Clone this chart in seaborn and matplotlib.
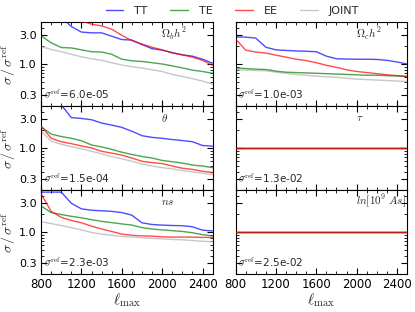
import numpy as np
import pandas as pd
import matplotlib
matplotlib.use("Agg")
import matplotlib.pyplot as plt
from matplotlib.ticker import FixedLocator, FixedFormatter, LogLocator, NullFormatter, MultipleLocator
import seaborn as sns

ell = [800, 900, 1000, 1100, 1200, 1300, 1400, 1500, 1600, 1700, 1800, 1900, 2000, 2100, 2200, 2300, 2400, 2500]

series_names = ["TT", "TE", "EE", "JOINT"]
series_colors = ["blue", "green", "red", "#b0b0b0"]

# Omega_b h^2
obh2_TT = [12, 9, 6, 4.2, 3.4, 3.3, 3.3, 2.9, 2.55, 2.5, 2.1, 1.8, 1.7, 1.55, 1.42, 1.35, 1.2, 1.03]
obh2_TE = [2.95, 2.25, 1.88, 1.85, 1.72, 1.6, 1.58, 1.45, 1.2, 1.13, 1.1, 1.05, 1.0, 0.93, 0.86, 0.79, 0.75, 0.70]
obh2_EE = [15, 11, 8, 6.3, 5.2, 4.6, 4.3, 3.8, 3.0, 2.45, 2.15, 1.9, 1.72, 1.52, 1.42, 1.3, 1.15, 0.95]
obh2_JOINT = [1.95, 1.75, 1.6, 1.45, 1.32, 1.22, 1.15, 1.05, 0.96, 0.9, 0.86, 0.8, 0.75, 0.67, 0.62, 0.57, 0.52, 0.46]

# Omega_c h^2
och2_TT = [2.82, 2.8, 2.7, 1.9, 1.72, 1.68, 1.65, 1.63, 1.6, 1.35, 1.22, 1.21, 1.2, 1.2, 1.19, 1.15, 1.08, 1.0]
och2_TE = [0.86, 0.84, 0.82, 0.81, 0.76, 0.73, 0.72, 0.71, 0.7, 0.69, 0.68, 0.67, 0.66, 0.65, 0.65, 0.64, 0.63, 0.62]
och2_EE = [2.6, 1.7, 1.58, 1.52, 1.4, 1.3, 1.2, 1.14, 1.05, 0.95, 0.88, 0.8, 0.75, 0.72, 0.69, 0.66, 0.64, 0.62]
och2_JOINT = [0.8, 0.79, 0.78, 0.77, 0.73, 0.7, 0.67, 0.65, 0.63, 0.61, 0.6, 0.58, 0.56, 0.55, 0.54, 0.53, 0.52, 0.51]

# theta
theta_TT = [12, 8.5, 5.2, 3.2, 3.1, 2.95, 2.6, 2.4, 2.2, 1.9, 1.6, 1.5, 1.45, 1.38, 1.33, 1.27, 1.1, 1.07]
theta_TE = [2.25, 1.7, 1.55, 1.45, 1.32, 1.12, 1.04, 0.95, 0.85, 0.78, 0.72, 0.68, 0.62, 0.59, 0.56, 0.52, 0.5, 0.47]
theta_EE = [2.3, 1.45, 1.27, 1.18, 1.08, 1.0, 0.88, 0.82, 0.76, 0.68, 0.6, 0.57, 0.55, 0.5, 0.46, 0.44, 0.41, 0.39]
theta_JOINT = [1.9, 1.3, 1.15, 1.05, 0.97, 0.88, 0.8, 0.72, 0.66, 0.6, 0.54, 0.5, 0.47, 0.45, 0.42, 0.4, 0.38, 0.36]

# tau
tau_TT = [1.0] * 18
tau_TE = [1.0] * 18
tau_EE = [1.0] * 18
tau_JOINT = [1.0] * 18

# ns
ns_TT = [4.6, 4.6, 4.6, 3.0, 2.42, 2.3, 2.25, 2.2, 2.1, 1.9, 1.42, 1.33, 1.3, 1.28, 1.27, 1.22, 1.07, 1.04]
ns_TE = [2.7, 2.1, 1.95, 1.82, 1.72, 1.6, 1.5, 1.43, 1.36, 1.3, 1.18, 1.12, 1.08, 1.05, 1.02, 0.97, 0.9, 0.86]
ns_EE = [4.3, 2.2, 1.75, 1.55, 1.42, 1.25, 1.12, 1.02, 0.92, 0.88, 0.86, 0.85, 0.83, 0.82, 0.82, 0.82, 0.81, 0.81]
ns_JOINT = [1.48, 1.38, 1.28, 1.18, 1.08, 0.98, 0.92, 0.88, 0.84, 0.82, 0.8, 0.78, 0.77, 0.75, 0.74, 0.72, 0.7, 0.69]

# ln(10^9 As)
lnas_TT = [1.0] * 18
lnas_TE = [1.01] * 18
lnas_EE = [1.0] * 18
lnas_JOINT = [1.0] * 18

panel_labels = [r"$\Omega_b h^2$", r"$\Omega_c h^2$", r"$\theta$", r"$\tau$", r"$ns$", r"$ln[10^9\ As]$"]
sigma_ref = ["6.0e-05", "1.0e-03", "1.5e-04", "1.3e-02", "2.3e-03", "2.5e-02"]
panel_data = [
    [obh2_TT, obh2_TE, obh2_EE, obh2_JOINT],
    [och2_TT, och2_TE, och2_EE, och2_JOINT],
    [theta_TT, theta_TE, theta_EE, theta_JOINT],
    [tau_TT, tau_TE, tau_EE, tau_JOINT],
    [ns_TT, ns_TE, ns_EE, ns_JOINT],
    [lnas_TT, lnas_TE, lnas_EE, lnas_JOINT],
]
ytick_vals = [0.3, 1.0, 3.0]
ytick_labels = ["0.3", "1.0", "3.0"]
xtick_vals = [800, 1200, 1600, 2000, 2400]

sns.set_style("ticks")
plt.rcParams.update({
    "font.family": ["DejaVu Sans"],
    "mathtext.fontset": "cm",
    "xtick.direction": "in",
    "ytick.direction": "in",
    "xtick.top": True,
    "ytick.right": True,
    "xtick.major.size": 4,
    "ytick.major.size": 4,
    "xtick.minor.size": 2,
    "ytick.minor.size": 2,
    "xtick.major.width": 0.8,
    "ytick.major.width": 0.8,
    "axes.edgecolor": "black",
    "axes.linewidth": 0.8,
    "xtick.color": "black",
    "ytick.color": "black",
})

fig, axes = plt.subplots(3, 2, figsize=(4.15, 3.12), dpi=100, sharex=True, sharey=True)
fig.subplots_adjust(left=0.099, right=0.981, top=0.9295, bottom=0.122, hspace=0.0, wspace=0.134)

for i, ax in enumerate(axes.flat):
    vals = panel_data[i]
    for j, (name, col) in enumerate(zip(series_names, series_colors)):
        df = pd.DataFrame({"ell": ell, "val": vals[j]})
        z = 1 if name == "JOINT" else 2 + j
        sns.lineplot(data=df, x="ell", y="val", ax=ax, color=col, alpha=0.7,
                     linewidth=1.0, zorder=z, label=name if i == 0 else None, legend=False)
    ax.set_yscale("log")
    ax.set_xlim(800, 2500)
    ax.set_ylim(0.2, 5)
    ax.yaxis.set_major_locator(FixedLocator(ytick_vals))
    ax.yaxis.set_major_formatter(FixedFormatter(ytick_labels))
    ax.yaxis.set_minor_locator(LogLocator(base=10, subs=np.arange(2, 10)))
    ax.yaxis.set_minor_formatter(NullFormatter())
    ax.xaxis.set_major_locator(FixedLocator(xtick_vals))
    ax.xaxis.set_minor_locator(MultipleLocator(100))
    ax.tick_params(which="both", direction="in", top=True, right=True, pad=3)
    ax.tick_params(axis="y", labelsize=8)
    ax.tick_params(axis="x", labelsize=8.5)
    ax.tick_params(which="minor", length=2)
    ax.set_xlabel("")
    ax.set_ylabel("")
    ax.text(0.70, 0.86, panel_labels[i], transform=ax.transAxes, ha="left", va="center", fontsize=8)
    ax.text(0.015, 0.14, r"$\sigma^{\rm ref}$=" + sigma_ref[i], transform=ax.transAxes,
            ha="left", va="center", fontsize=7.5)
    if i % 2 == 0:
        ax.set_ylabel(r"$\sigma\,/\,\sigma^{\rm ref}$", fontsize=10, labelpad=1)
    else:
        ax.tick_params(labelleft=False)
    if i >= 4:
        ax.set_xlabel(r"$\ell_{\rm max}$", fontsize=11, labelpad=0)

h, l = axes.flat[0].get_legend_handles_labels()
fig.legend(h, l, loc="center", bbox_to_anchor=(0.56, 0.965), ncol=4, frameon=False,
           fontsize=8, handlelength=1.6, handletextpad=1.0, columnspacing=2.0)

fig.savefig("out.png", dpi=100)
